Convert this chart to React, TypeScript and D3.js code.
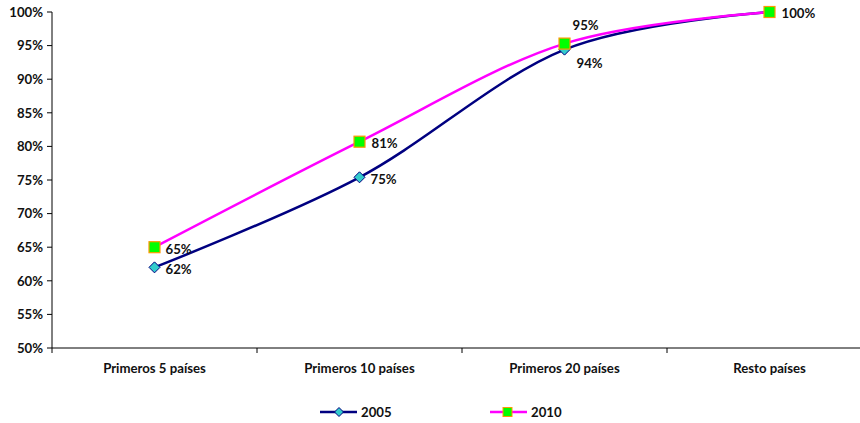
import React from "react";
import * as d3 from "d3";

const categories = ["Primeros 5 países", "Primeros 10 países", "Primeros 20 países", "Resto países"];
const series2005 = [62, 75.4, 94.4, 100];
const series2010 = [65, 80.7, 95.3, 100];
const yTicks = [50, 55, 60, 65, 70, 75, 80, 85, 90, 95, 100];

const W = 860;
const H = 423;
const M = { left: 52, right: -12, top: 12, bottom: 75 };
const FONT = "Lato, 'Open Sans', sans-serif";
const FS = 13.2;

// per-label nudges (dx, dy) relative to the marker
const labels2005 = [[11, 2], [11, 2], [12, 14], [12, 1]];
const labels2010 = [[11, 2], [12, 2], [8, -18], null];

export default function App() {
  const x = d3.scaleBand().domain(categories).range([M.left, W - M.right]);
  const y = d3.scaleLinear().domain([50, 100]).range([H - M.bottom, M.top]);
  const cx = (c: string) => (x(c) as number) + x.bandwidth() / 2;

  const line = d3
    .line<number>()
    .x((_, i) => cx(categories[i]))
    .y((d) => y(d))
    .curve(d3.curveCardinal.tension(0));

  const diamond = (px: number, py: number, r: number) =>
    `M${px},${py - r}L${px + r},${py}L${px},${py + r}L${px - r},${py}Z`;

  const y0 = H - M.bottom;
  const bandTicks = categories.map((c) => x(c) as number).concat([W - M.right]);

  return (
    <svg width={W} height={H} style={{ position: "absolute", left: 0, top: 0, fontFamily: FONT }}>
      <rect width={W} height={H} fill="#fff" />
      {/* y axis */}
      <line x1={M.left} x2={M.left} y1={M.top} y2={y0} stroke="#000" strokeWidth={1} />
      {yTicks.map((t) => (
        <g key={t}>
          <line x1={M.left - 5} x2={M.left} y1={y(t)} y2={y(t)} stroke="#000" />
          <text x={M.left - 9} y={y(t)} dy="0.36em" textAnchor="end" fontSize={FS} fontWeight={700} fill="#111">
            {t}%
          </text>
        </g>
      ))}
      {/* x axis */}
      <line x1={M.left} x2={W} y1={y0} y2={y0} stroke="#000" />
      {bandTicks.map((t, i) => (
        <line key={i} x1={t} x2={t} y1={y0} y2={y0 + 5} stroke="#000" />
      ))}
      {categories.map((c) => (
        <text key={c} x={cx(c)} y={y0 + 25} textAnchor="middle" fontSize={FS} fontWeight={700} fill="#111">
          {c}
        </text>
      ))}
      {/* 2005 */}
      <path d={line(series2005) || ""} fill="none" stroke="#000080" strokeWidth={2.5} />
      {/* 2010 */}
      <path d={line(series2010) || ""} fill="none" stroke="#FF00FF" strokeWidth={2.5} />
      {series2005.map((v, i) => (
        <path key={"d" + i} d={diamond(cx(categories[i]), y(v), 5.5)} fill="#33CCCC" stroke="#000080" strokeWidth={1} />
      ))}
      {series2010.map((v, i) => (
        <rect key={"s" + i} x={cx(categories[i]) - 5.5} y={y(v) - 5.5} width={11} height={11} fill="#00FF00" stroke="#FF9900" strokeWidth={1.2} />
      ))}
      {series2005.map((v, i) => {
        const o = labels2005[i];
        return (
          <text key={"l5" + i} x={cx(categories[i]) + o[0]} y={y(v) + o[1]} dy="0.36em" fontSize={FS} fontWeight={700} fill="#111">
            {Math.round(v)}%
          </text>
        );
      })}
      {series2010.map((v, i) => {
        const o = labels2010[i];
        if (!o) return null;
        return (
          <text key={"l10" + i} x={cx(categories[i]) + o[0]} y={y(v) + o[1]} dy="0.36em" fontSize={FS} fontWeight={700} fill="#111">
            {Math.round(v)}%
          </text>
        );
      })}
      {/* legend */}
      <g transform="translate(320,412)">
        <line x1={0} x2={37} y1={0} y2={0} stroke="#000080" strokeWidth={2.5} />
        <path d={diamond(19, 0, 4.5)} fill="#33CCCC" stroke="#000080" />
        <text x={41} y={0} dy="0.36em" fontSize={FS} fontWeight={700} fill="#111">2005</text>
      </g>
      <g transform="translate(490,412)">
        <line x1={0} x2={37} y1={0} y2={0} stroke="#FF00FF" strokeWidth={2.5} />
        <rect x={13} y={-4.5} width={9} height={9} fill="#00FF00" stroke="#FF9900" />
        <text x={41} y={0} dy="0.36em" fontSize={FS} fontWeight={700} fill="#111">2010</text>
      </g>
    </svg>
  );
}
